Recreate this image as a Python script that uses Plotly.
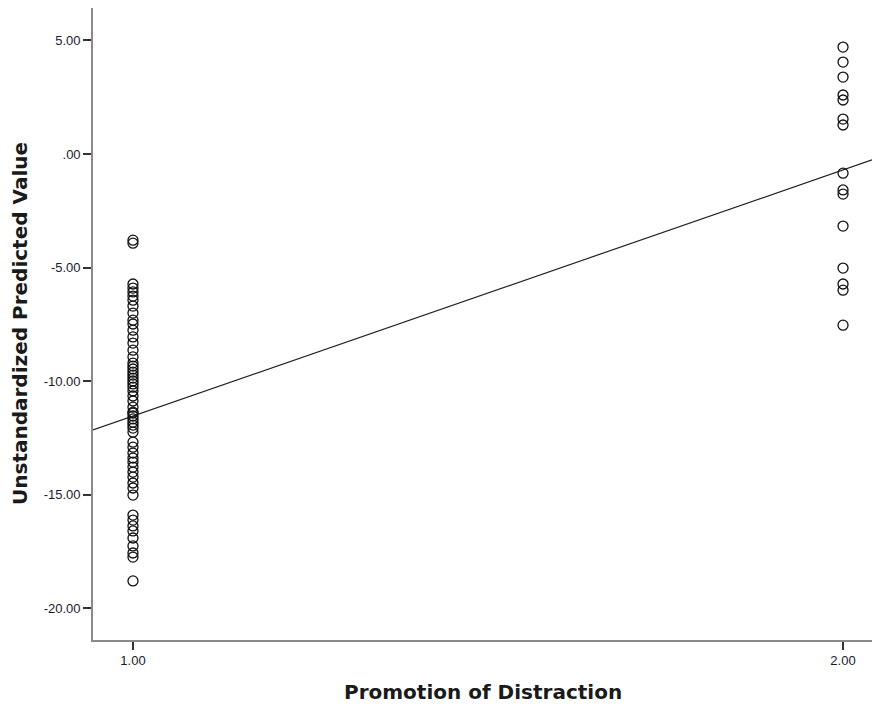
import plotly.graph_objects as go

# Group 1 (Promotion of Distraction = 1.00)
g1_values = [-3.79, -3.92, -5.72, -5.90, -6.07, -6.25, -6.43, -6.69, -7.00,
             -7.31, -7.48, -7.75, -8.05, -8.32, -8.63, -8.93,
             -9.20, -9.33, -9.46, -9.60, -9.73, -9.86, -9.99, -10.12, -10.26,
             -10.43, -10.65, -10.87, -11.14, -11.36,
             -11.40, -11.53, -11.66, -11.80, -11.93, -12.06, -12.24,
             -12.68, -12.90, -13.16, -13.38, -13.56, -13.78, -14.00, -14.22, -14.48,
             -14.70, -15.01,
             -15.89, -16.11, -16.37, -16.59, -16.90, -17.25, -17.56, -17.74,
             -18.79]
# Group 2 (Promotion of Distraction = 2.00)
g2_values = [4.71, 4.05, 3.39, 2.60, 2.38, 1.54, 1.28, -0.84, -1.58, -1.76,
             -3.17, -5.02, -5.72, -5.99, -7.53]

# Fit line (value at x=1 and x=2)
fit_x = [0.9437, 2.0408]
fit_at_1 = -11.53
fit_at_2 = -0.70

y_tickvals = [5, 0, -5, -10, -15, -20]
y_ticktext = ["5.00", ".00", "-5.00", "-10.00", "-15.00", "-20.00"]
x_tickvals = [1, 2]
x_ticktext = ["1.00", "2.00"]

slope = fit_at_2 - fit_at_1
intercept = fit_at_1 - slope
fit_y = [intercept + slope * xv for xv in fit_x]

xs = [1.0] * len(g1_values) + [2.0] * len(g2_values)
ys = g1_values + g2_values

fig = go.Figure()
fig.add_trace(go.Scatter(x=fit_x, y=fit_y, mode="lines",
                         line=dict(color="#222222", width=1.2),
                         showlegend=False, hoverinfo="skip"))
fig.add_trace(go.Scatter(x=xs, y=ys, mode="markers",
                         marker=dict(symbol="circle-open", size=10, color="#111111",
                                     line=dict(color="#111111", width=1.3)),
                         showlegend=False))

tickfont = dict(family="Liberation Sans, Arial, sans-serif", size=13, color="#1a1a2e")

fig.update_layout(
    width=872, height=707,
    margin=dict(l=93, r=0, t=8, b=67),
    paper_bgcolor="white", plot_bgcolor="white",
    xaxis=dict(range=[0.9437, 2.0408], showgrid=False, zeroline=False,
               showline=True, linecolor="#8a8a8a", linewidth=1.6,
               ticks="outside", ticklen=8, tickwidth=2, tickcolor="#333333",
               tickvals=x_tickvals, ticktext=x_ticktext, tickfont=tickfont),
    yaxis=dict(range=[-21.39, 6.43], showgrid=False, zeroline=False,
               showline=True, linecolor="#8a8a8a", linewidth=1.6,
               ticks="outside", ticklen=8, tickwidth=2, tickcolor="#333333",
               tickvals=y_tickvals, ticktext=y_ticktext, tickfont=tickfont),
    annotations=[
        dict(text="<b>Unstandardized Predicted Value</b>", xref="paper", yref="paper",
             x=-0.0937, y=0.5, xanchor="center", yanchor="middle", textangle=-90,
             showarrow=False,
             font=dict(family="DejaVu Sans, Verdana, sans-serif", size=20, color="#1a1a1a")),
        dict(text="<b>Promotion of Distraction</b>", xref="paper", yref="paper",
             x=0.5, y=-0.0823, xanchor="center", yanchor="middle",
             showarrow=False,
             font=dict(family="DejaVu Sans, Verdana, sans-serif", size=20, color="#1a1a1a")),
    ],
)

fig.write_html("out.html", config={"displayModeBar": False},
               post_script="document.body.style.margin='0';document.body.style.overflow='hidden';")
